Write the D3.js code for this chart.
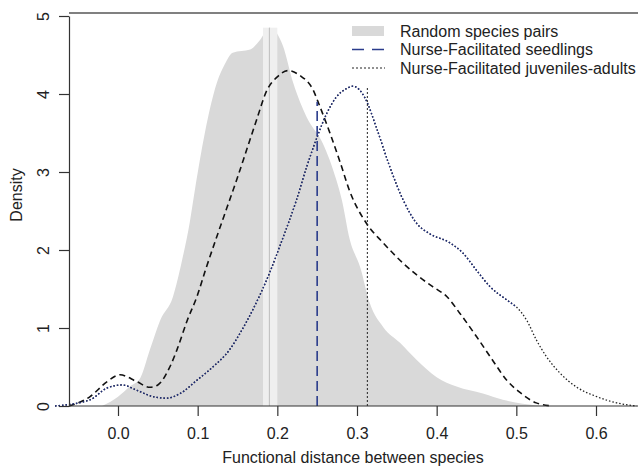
<!DOCTYPE html>
<html>
<head>
<meta charset="utf-8">
<script src="https://cdn.jsdelivr.net/npm/d3@7"></script>
<style>
  body { margin: 0; background: #fff; }
  text { font-family: "Liberation Sans", Arial, sans-serif; fill: #222; }
</style>
</head>
<body>
<div id="chart"></div>
<script>
// density of random species pairs (grey area)
const randomX = [-0.02, 0.0, 0.015, 0.028, 0.04, 0.053, 0.069, 0.08, 0.09, 0.097, 0.109, 0.124, 0.134, 0.144, 0.166, 0.178, 0.19, 0.207, 0.22, 0.237, 0.257, 0.274, 0.281, 0.291, 0.304, 0.316, 0.333, 0.354, 0.375, 0.40, 0.425, 0.458, 0.483, 0.508, 0.54];
const randomY = [0, 0.12, 0.25, 0.36, 0.72, 1.1, 1.4, 1.85, 2.35, 2.8, 3.5, 4.14, 4.38, 4.53, 4.57, 4.69, 4.85, 4.62, 4.14, 3.7, 3.37, 2.9, 2.64, 2.13, 1.78, 1.32, 1.01, 0.81, 0.59, 0.37, 0.25, 0.16, 0.08, 0.03, 0];

// nurse-facilitated seedlings (black dashed curve)
const seedX = [-0.0615, -0.035, -0.014, 0.0025, 0.024, 0.04, 0.05, 0.065, 0.074, 0.087, 0.099, 0.11, 0.125, 0.137, 0.149, 0.162, 0.174, 0.187, 0.2, 0.213, 0.228, 0.245, 0.253, 0.266, 0.279, 0.291, 0.312, 0.333, 0.358, 0.375, 0.395, 0.413, 0.429, 0.45, 0.47, 0.488, 0.505, 0.525, 0.545];
const seedY = [0, 0.12, 0.31, 0.40, 0.31, 0.24, 0.27, 0.5, 0.72, 1.1, 1.4, 1.75, 2.2, 2.55, 2.9, 3.3, 3.67, 4.05, 4.22, 4.3, 4.24, 4.05, 3.85, 3.5, 3.12, 2.75, 2.34, 2.09, 1.83, 1.68, 1.53, 1.4, 1.19, 0.89, 0.59, 0.33, 0.17, 0.04, 0];

// nurse-facilitated juveniles-adults (dotted curve)
const juvX = [-0.079, -0.035, -0.014, 0.005, 0.024, 0.044, 0.061, 0.078, 0.099, 0.119, 0.14, 0.153, 0.17, 0.19, 0.205, 0.224, 0.237, 0.25, 0.262, 0.274, 0.287, 0.295, 0.31, 0.325, 0.34, 0.358, 0.375, 0.391, 0.417, 0.433, 0.45, 0.467, 0.488, 0.5, 0.513, 0.525, 0.538, 0.555, 0.576, 0.601, 0.626, 0.651];
const juvY = [0, 0.08, 0.23, 0.27, 0.2, 0.12, 0.1, 0.16, 0.33, 0.5, 0.72, 0.93, 1.25, 1.7, 2.1, 2.64, 3.07, 3.45, 3.75, 3.96, 4.07, 4.1, 3.95, 3.55, 3.1, 2.64, 2.34, 2.21, 2.09, 1.96, 1.74, 1.53, 1.36, 1.27, 1.1, 0.85, 0.63, 0.42, 0.24, 0.12, 0.04, 0];

// vertical reference lines: [x, height]
const randomMean = [0.19, 4.85];
const randomBand = [0.182, 0.2];
const seedMedian = [0.25, 3.9];
const juvMedian = [0.313, 4.1];

const xTicks = [0, 0.1, 0.2, 0.3, 0.4, 0.5, 0.6];
const yTicks = [0, 1, 2, 3, 4, 5];
const legendLabels = ["Random species pairs", "Nurse-Facilitated seedlings", "Nurse-Facilitated juveniles-adults"];

const W = 638, H = 467;
const padL = 69, padR = 638, padT = 13;
const navy = "#1f2d7a";

const svg = d3.select("#chart").append("svg")
  .attr("width", W).attr("height", H);

const x = d3.scaleLinear().domain([0, 0.6]).range([118, 596]);
const y = d3.scaleLinear().domain([0, 5]).range([406, 16]);

const pts = (xs, ys) => xs.map((v, i) => [v, ys[i]]);

// grey area
const area = d3.area()
  .x(d => x(d[0])).y0(y(0)).y1(d => y(d[1]))
  .curve(d3.curveMonotoneX);
svg.append("path")
  .datum(pts(randomX, randomY))
  .attr("d", area)
  .attr("fill", "#d9d9d9");

// light band + mean line of random pairs
svg.append("rect")
  .attr("x", x(randomBand[0]))
  .attr("y", y(randomMean[1]))
  .attr("width", x(randomBand[1]) - x(randomBand[0]))
  .attr("height", y(0) - y(randomMean[1]))
  .attr("fill", "#efefef");
svg.append("line")
  .attr("x1", x(randomMean[0])).attr("x2", x(randomMean[0]))
  .attr("y1", y(0)).attr("y2", y(randomMean[1]))
  .attr("stroke", "#bdbdbd").attr("stroke-width", 1);

const line = d3.line()
  .x(d => x(d[0])).y(d => y(d[1]))
  .curve(d3.curveMonotoneX);

// seedlings curve
svg.append("path")
  .datum(pts(seedX, seedY))
  .attr("d", line)
  .attr("fill", "none")
  .attr("stroke", "#111")
  .attr("stroke-width", 1.6)
  .attr("stroke-dasharray", "6,4");

// juveniles curve: black dotted underneath, navy dotted over the main part
svg.append("path")
  .datum(pts(juvX, juvY))
  .attr("d", line)
  .attr("fill", "none")
  .attr("stroke", "#222")
  .attr("stroke-width", 1.3)
  .attr("stroke-dasharray", "1.5,2");
svg.append("path")
  .datum(pts(juvX, juvY).filter(d => d[0] <= 0.5))
  .attr("d", line)
  .attr("fill", "none")
  .attr("stroke", navy)
  .attr("stroke-width", 1.5)
  .attr("stroke-dasharray", "1.5,2");

// median lines
svg.append("line")
  .attr("x1", x(seedMedian[0])).attr("x2", x(seedMedian[0]))
  .attr("y1", y(0)).attr("y2", y(seedMedian[1]))
  .attr("stroke", "#2b3c8c").attr("stroke-width", 1.6)
  .attr("stroke-dasharray", "10,5");
svg.append("line")
  .attr("x1", x(juvMedian[0])).attr("x2", x(juvMedian[0]))
  .attr("y1", y(0)).attr("y2", y(juvMedian[1]))
  .attr("stroke", "#222").attr("stroke-width", 1)
  .attr("stroke-dasharray", "2,2");

// frame: top grey line, left and bottom axes
svg.append("line")
  .attr("x1", padL).attr("x2", padR).attr("y1", padT).attr("y2", padT)
  .attr("stroke", "#808080").attr("stroke-width", 2);

const yAxis = svg.append("g").attr("transform", `translate(${padL},0)`)
  .call(d3.axisLeft(y).tickValues(yTicks).tickSize(10).tickSizeOuter(0).tickFormat(d3.format("d")));
yAxis.select(".domain").attr("stroke", "#333").attr("stroke-width", 1.2);
yAxis.selectAll(".tick line").attr("stroke", "#333").attr("stroke-width", 1.2);
yAxis.selectAll(".tick text")
  .attr("x", null).attr("dy", null)
  .attr("transform", "translate(-26,0) rotate(-90)")
  .attr("text-anchor", "middle")
  .attr("dominant-baseline", "central")
  .style("font-size", "16px")
  .style("font-family", "Liberation Sans, Arial, sans-serif")
  .attr("fill", "#222");

const xAxis = svg.append("g").attr("transform", `translate(0,${y(0)})`)
  .call(d3.axisBottom(x).tickValues(xTicks).tickSize(10).tickSizeOuter(0).tickFormat(d3.format(".1f")));
xAxis.select(".domain").attr("d", `M${padL},0H${padR}`).attr("stroke", "#333").attr("stroke-width", 1.2);
xAxis.selectAll(".tick line").attr("stroke", "#333").attr("stroke-width", 1.2);
xAxis.selectAll(".tick text")
  .attr("y", 33).attr("dy", null)
  .style("font-size", "16px")
  .style("font-family", "Liberation Sans, Arial, sans-serif")
  .attr("fill", "#222");

// axis titles
svg.append("text")
  .attr("x", 353).attr("y", 463)
  .attr("text-anchor", "middle")
  .style("font-size", "16px")
  .text("Functional distance between species");
svg.append("text")
  .attr("transform", "translate(16,195) rotate(-90)")
  .attr("text-anchor", "middle")
  .attr("dominant-baseline", "central")
  .style("font-size", "16px")
  .text("Density");

// legend
const leg = svg.append("g");
const rowY = [31, 49.5, 68];
leg.append("rect")
  .attr("x", 352).attr("y", rowY[0] - 5).attr("width", 32).attr("height", 10)
  .attr("fill", "#d9d9d9");
leg.append("line")
  .attr("x1", 352).attr("x2", 385).attr("y1", rowY[1]).attr("y2", rowY[1])
  .attr("stroke", "#2b3c8c").attr("stroke-width", 1.6).attr("stroke-dasharray", "12,8");
leg.append("line")
  .attr("x1", 352).attr("x2", 385).attr("y1", rowY[2]).attr("y2", rowY[2])
  .attr("stroke", "#222").attr("stroke-width", 1).attr("stroke-dasharray", "2,2");
leg.selectAll("text.lab")
  .data(legendLabels)
  .enter()
  .append("text")
  .attr("class", "lab")
  .attr("x", 400)
  .attr("y", (d, i) => rowY[i])
  .attr("dominant-baseline", "central")
  .style("font-size", "16px")
  .text(d => d);
</script>
</body>
</html>
